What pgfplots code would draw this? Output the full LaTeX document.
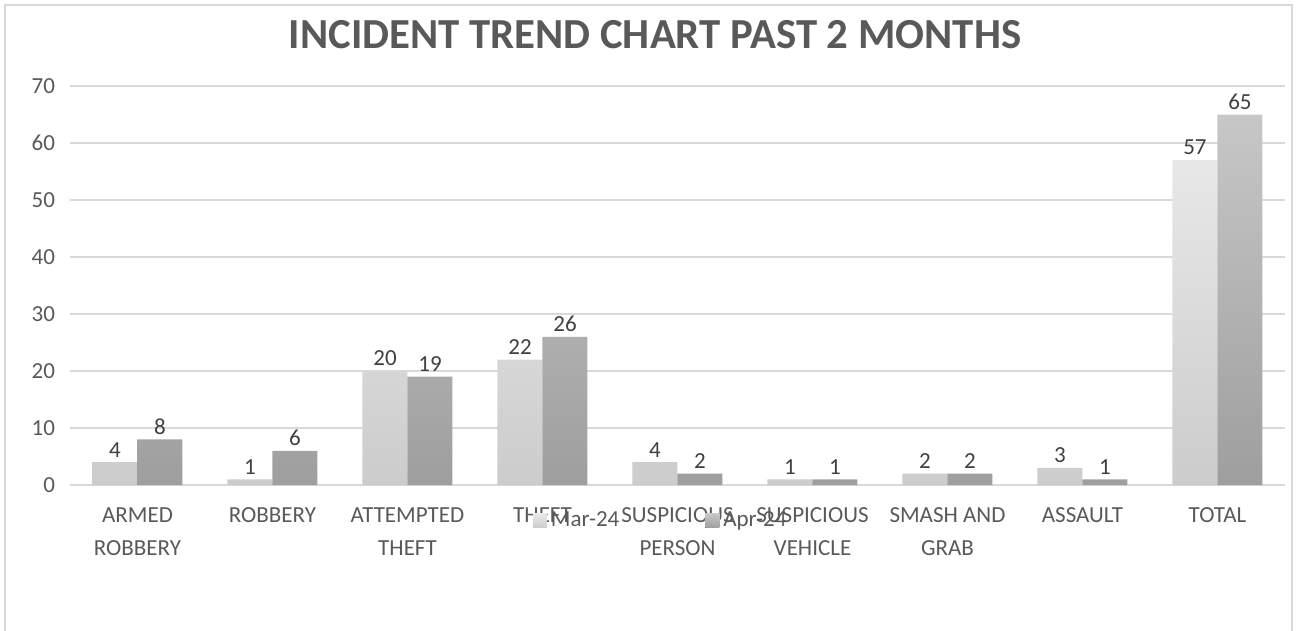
\documentclass[border=0pt]{standalone}
\usepackage{pgfplots}
\pgfplotsset{compat=1.18}
\usepackage{fontspec}
\setmainfont{Carlito}
\definecolor{txt}{HTML}{595959}
\definecolor{lbl}{HTML}{404040}
\definecolor{gridc}{HTML}{D9D9D9}
\begin{document}
\begin{tikzpicture}
\useasboundingbox (0pt,0pt) rectangle (653pt,-315.5pt);
\draw[gridc, line width=0.8pt] (2.5pt,-2.5pt) rectangle (646pt,-330pt);
\node[text=txt, font=\fontsize{21.4}{25}\selectfont\bfseries] at (327.5pt,-17.5pt) {INCIDENT TREND CHART PAST 2 MONTHS};
\begin{axis}[
  at={(35pt,-242.5pt)}, anchor=south west,
  scale only axis, width=607.5pt, height=199.5pt,
  xmin=-0.5, xmax=8.5, ymin=0, ymax=70,
  ytick={0,10,...,70},
  xtick=data,
  xticklabels={{ARMED\\ROBBERY},{ROBBERY},{ATTEMPTED\\THEFT},{THEFT},{SUSPICIOUS\\PERSON},{SUSPICIOUS\\VEHICLE},{SMASH AND\\GRAB},{ASSAULT},{TOTAL}},
  xticklabel style={align=center, text=txt, font=\fontsize{11.5}{16.5}\selectfont, yshift=-8pt},
  yticklabel style={text=txt, font=\fontsize{11.5}{14}\selectfont, xshift=-4pt},
  /pgf/number format/assume math mode=true,
  major tick length=0pt,
  axis line style={draw=none},
  ymajorgrids, grid style={gridc, line width=0.7pt},
  ybar=0pt, bar width=22.5pt,
  nodes near coords,
  every node near coord/.append style={text=lbl, font=\fontsize{11.5}{14}\selectfont, yshift=-1pt},
  clip=false,
  legend style={at={(axis description cs:0.487,-0.09)}, anchor=center, draw=none, fill=none,
    font=\fontsize{11.5}{14}\selectfont, text=txt, legend columns=2,
    /tikz/every even column/.append style={column sep=41pt},
    inner sep=0pt},
  legend image code/.code={\fill[#1] (0pt,-3.5pt) rectangle (7pt,3.5pt);},
]
\addplot[draw=none, top color=black!9, bottom color=black!20] coordinates {(0,4) (1,1) (2,20) (3,22) (4,4) (5,1) (6,2) (7,3) (8,57)};
\addplot[draw=none, top color=black!22, bottom color=black!38] coordinates {(0,8) (1,6) (2,19) (3,26) (4,2) (5,1) (6,2) (7,1) (8,65)};
\legend{Mar-24, Apr-24}
\end{axis}
\end{tikzpicture}
\end{document}
